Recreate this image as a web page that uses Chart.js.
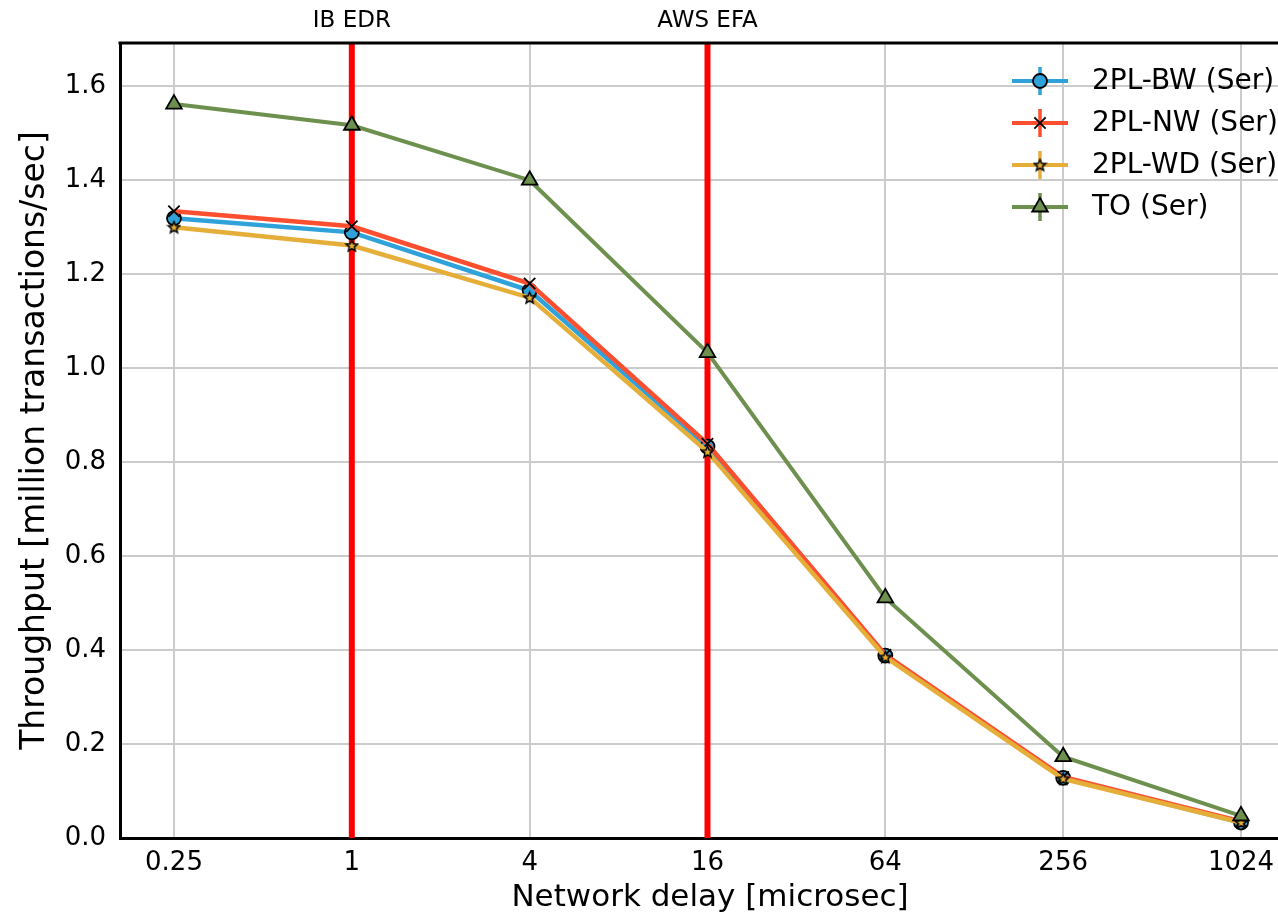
<!DOCTYPE html>
<html>
<head>
<meta charset="utf-8">
<script src="https://cdn.jsdelivr.net/npm/chart.js@4.4.1/dist/chart.umd.min.js"></script>
<style>
  body{margin:0;background:#fff;}
  canvas{display:block;}
</style>
</head>
<body>
<canvas id="c" width="1278" height="919"></canvas>
<script>
// delays in microsec (x axis is log2)
const delays = [0.25, 1, 4, 16, 64, 256, 1024];
const xTickLabels = ["0.25", "1", "4", "16", "64", "256", "1024"];
const seriesNames = ["2PL-BW (Ser)", "2PL-NW (Ser)", "2PL-WD (Ser)", "TO (Ser)"];
const bw = [1.319, 1.289, 1.165, 0.833, 0.388, 0.128, 0.033];
const nw = [1.334, 1.302, 1.180, 0.839, 0.390, 0.130, 0.035];
const wd = [1.300, 1.261, 1.150, 0.822, 0.385, 0.126, 0.033];
const to = [1.562, 1.517, 1.400, 1.033, 0.511, 0.173, 0.047];
const yTicks = [0, 0.2, 0.4, 0.6, 0.8, 1.0, 1.2, 1.4, 1.6];
const markLines = [{delay: 1, label: "IB EDR"}, {delay: 16, label: "AWS EFA"}];
const xTitle = "Network delay [microsec]";

const colors = ["#30a2da", "#fc4f30", "#e5ae38", "#6d904f"];
const FONT = "'DejaVu Sans', Verdana, sans-serif";

// matplotlib style filled star
function makeStar(size, fill){
  const cv = document.createElement("canvas");
  cv.width = size; cv.height = size;
  const g = cv.getContext("2d");
  const cx = size/2, cy = size/2+0.5, R = size/2-1.5, r = R*0.45;
  g.beginPath();
  for(let i=0;i<10;i++){
    const a = -Math.PI/2 + i*Math.PI/5;
    const rr = i%2 ? r : R;
    g.lineTo(cx + rr*Math.cos(a), cy + rr*Math.sin(a));
  }
  g.closePath();
  g.fillStyle = fill; g.fill();
  g.lineWidth = 1.5; g.strokeStyle = "#000"; g.stroke();
  return cv;
}
const starImg = makeStar(15, colors[2]);

function pts(arr){ return delays.map((d,i)=>({x: Math.log2(d), y: arr[i]})); }

const styles = [
  {pointStyle: "circle", radius: 7, bg: colors[0], lw: 4.5},
  {pointStyle: "crossRot", radius: 8, bg: colors[1], lw: 4.5},
  {pointStyle: starImg, radius: 7, bg: colors[2], lw: 4.5},
  {pointStyle: "triangle", radius: 9, bg: colors[3], lw: 4}
];

const datasets = [bw, nw, wd, to].map((arr,i)=>({
  label: seriesNames[i],
  data: pts(arr),
  borderColor: colors[i],
  borderWidth: styles[i].lw,
  pointStyle: styles[i].pointStyle,
  pointRadius: styles[i].radius,
  pointBackgroundColor: styles[i].bg,
  pointBorderColor: "#000",
  pointBorderWidth: 1.8,
  tension: 0,
  order: 4 - i
}));

// red lines + labels above the plot, x tick labels, x title, top frame
const markPlugin = {
  id: "marks",
  beforeDatasetsDraw(chart){
    const {ctx, chartArea: a, scales: {x}} = chart;
    ctx.save();
    ctx.strokeStyle = "#ff0000"; ctx.lineWidth = 6;
    markLines.forEach(m=>{
      const px = x.getPixelForValue(Math.log2(m.delay));
      ctx.beginPath(); ctx.moveTo(px, a.top); ctx.lineTo(px, a.bottom); ctx.stroke();
    });
    ctx.restore();
  },
  afterDraw(chart){
    const {ctx, chartArea: a, scales: {x}} = chart;
    ctx.save();
    ctx.fillStyle = "#000"; ctx.font = "23px " + FONT;
    ctx.textAlign = "center"; ctx.textBaseline = "middle";
    markLines.forEach(m=>{
      ctx.fillText(m.label, x.getPixelForValue(Math.log2(m.delay)), 21);
    });
    ctx.font = "26px " + FONT;
    delays.forEach((d,i)=>{
      ctx.fillText(xTickLabels[i], x.getPixelForValue(Math.log2(d)), a.bottom + 25);
    });
    ctx.font = "31px " + FONT;
    ctx.fillText(xTitle, 710, 898);
    ctx.strokeStyle = "#000"; ctx.lineWidth = 3;
    ctx.beginPath(); ctx.moveTo(a.left-1.5, a.top); ctx.lineTo(a.right, a.top); ctx.stroke();
    ctx.restore();
  }
};

// legend like the matplotlib one (line + errorbar + marker)
const legendPlugin = {
  id: "mlegend",
  afterDraw(chart){
    const ctx = chart.ctx;
    ctx.save();
    seriesNames.forEach((name,i)=>{
      const y = 81 + i*42, xc = 1040;
      ctx.strokeStyle = colors[i]; ctx.lineWidth = 4;
      ctx.beginPath(); ctx.moveTo(1012, y); ctx.lineTo(1068, y); ctx.stroke();
      ctx.lineWidth = 3.5;
      ctx.beginPath(); ctx.moveTo(xc, y-14); ctx.lineTo(xc, y+14); ctx.stroke();
      ctx.fillStyle = styles[i].bg; ctx.strokeStyle = "#000"; ctx.lineWidth = 1.8;
      Chart.helpers.drawPoint(ctx, {
        pointStyle: styles[i].pointStyle, radius: styles[i].radius, borderWidth: 1.8, rotation: 0
      }, xc, y);
      ctx.fillStyle = "#000"; ctx.font = "28px " + FONT;
      ctx.textAlign = "left"; ctx.textBaseline = "middle";
      ctx.fillText(name, 1092, y+1);
    });
    ctx.restore();
  }
};

new Chart(document.getElementById("c"), {
  type: "line",
  data: {datasets},
  options: {
    responsive: false,
    devicePixelRatio: 1,
    animation: false,
    layout: {autoPadding: false, padding: {top: 43, right: 0, left: 0, bottom: 0}},
    plugins: {legend: {display: false}, tooltip: {enabled: false}},
    scales: {
      x: {
        type: "linear",
        min: -2.607, max: 10.416,
        afterBuildTicks(s){ s.ticks = delays.map(d=>({value: Math.log2(d)})); },
        afterFit(s){ s.height = 81; },
        grid: {color: "#cbcbcb", lineWidth: 2, drawTicks: false},
        border: {color: "#000", width: 3},
        ticks: {display: false},
        title: {display: false}
      },
      y: {
        min: 0, max: 1.692,
        afterBuildTicks(s){ s.ticks = yTicks.map(v=>({value: v})); },
        afterFit(s){ s.width = 120; },
        grid: {color: "#cbcbcb", lineWidth: 2, drawTicks: false},
        border: {color: "#000", width: 3},
        ticks: {
          padding: 14, color: "#000", font: {family: FONT, size: 26},
          callback: v => v.toFixed(1)
        },
        title: {display: true, text: "Throughput [million transactions/sec]", color: "#000",
                font: {family: FONT, size: 33}, padding: {top: 16, bottom: 0}}
      }
    }
  },
  plugins: [markPlugin, legendPlugin]
});
</script>
</body>
</html>
